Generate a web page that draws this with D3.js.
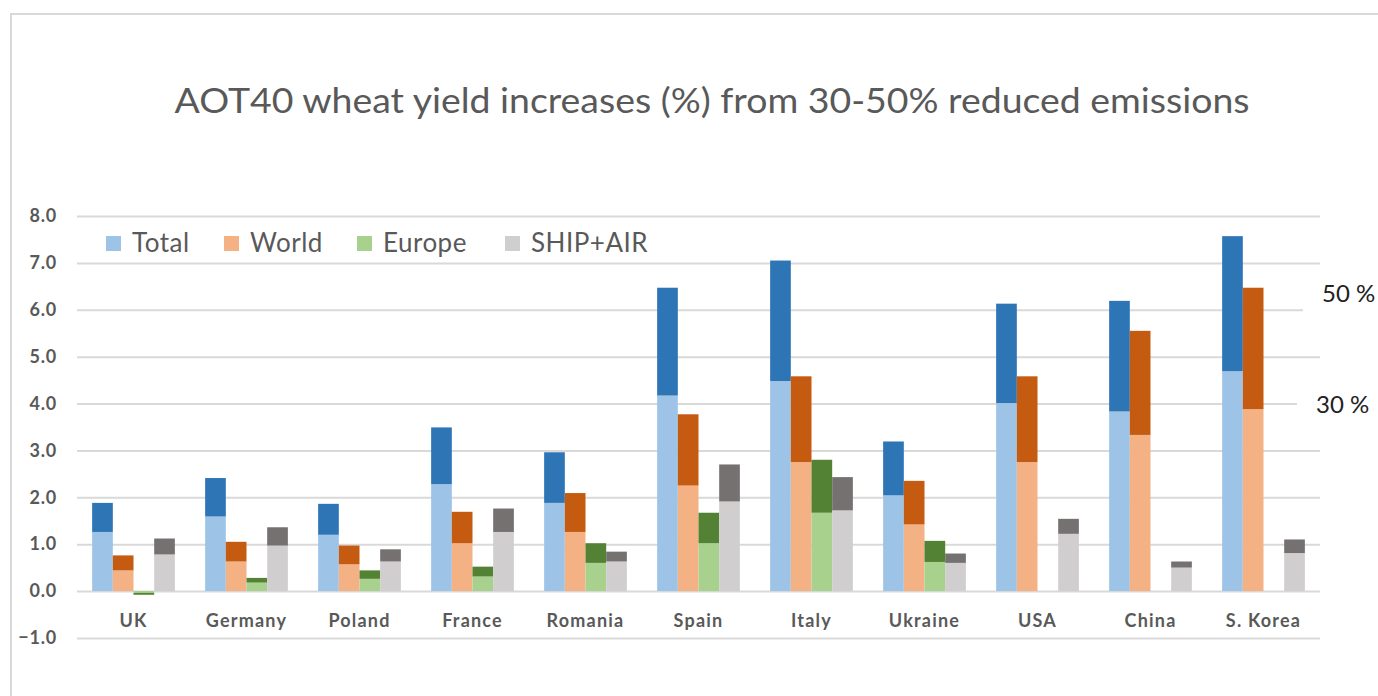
<!DOCTYPE html>
<html>
<head>
<meta charset="utf-8">
<script src="https://cdn.jsdelivr.net/npm/d3@7"></script>
<style>
  body { margin: 0; background: #fff; }
  text { font-family: Lato, "Open Sans", sans-serif; }
</style>
</head>
<body>
<script>
const width = 1378;
const height = 696;

// data: 30% reduction (light) and 50% reduction (full bar)
const categories = ["UK", "Germany", "Poland", "France", "Romania", "Spain", "Italy", "Ukraine", "USA", "China", "S. Korea"];
const seriesNames = ["Total", "World", "Europe", "SHIP+AIR"];

const total30 = [1.26, 1.59, 1.20, 2.28, 1.88, 4.17, 4.48, 2.04, 4.01, 3.83, 4.69];
const total50 = [1.88, 2.41, 1.86, 3.49, 2.96, 6.47, 7.05, 3.19, 6.13, 6.19, 7.57];
const world30 = [0.44, 0.63, 0.57, 1.02, 1.26, 2.25, 2.75, 1.42, 2.75, 3.33, 3.88];
const world50 = [0.76, 1.05, 0.97, 1.69, 2.09, 3.77, 4.58, 2.35, 4.58, 5.55, 6.47];
const europe30 = [-0.04, 0.18, 0.26, 0.31, 0.60, 1.02, 1.67, 0.62, 0, 0, 0];
const europe50 = [-0.08, 0.28, 0.44, 0.52, 1.02, 1.67, 2.80, 1.07, 0, 0, 0];
const ship30 = [0.78, 0.97, 0.63, 1.26, 0.63, 1.91, 1.72, 0.60, 1.22, 0.50, 0.81];
const ship50 = [1.12, 1.36, 0.89, 1.76, 0.84, 2.70, 2.43, 0.80, 1.54, 0.63, 1.10];

const yTickValues = [-1, 0, 1, 2, 3, 4, 5, 6, 7, 8];
const reductionLabels = ["50 %", "30 %"];

const lightColors = ["#9dc3e6", "#f4b183", "#a9d18e", "#d0cece"];
const darkColors = ["#2e75b6", "#c55a11", "#548235", "#767171"];

const values30 = [total30, world30, europe30, ship30];
const values50 = [total50, world50, europe50, ship50];

// one row per bar segment
const segments = [];
categories.forEach((c, i) => {
  seriesNames.forEach((s, j) => {
    segments.push({ cat: c, series: s, from: 0, to: values30[j][i], color: lightColors[j] });
    segments.push({ cat: c, series: s, from: values30[j][i], to: values50[j][i], color: darkColors[j] });
  });
});

const plotLeft = 77;
const plotRight = 1320;

const svg = d3.select("body")
  .append("svg")
  .attr("width", width)
  .attr("height", height);

svg.append("rect")
  .attr("width", width)
  .attr("height", height)
  .attr("fill", "#fff");

// chart frame (only top and left edges are visible)
svg.append("path")
  .attr("d", `M11,${height} L11,14 L${width},14`)
  .attr("fill", "none")
  .attr("stroke", "#d9d9d9")
  .attr("stroke-width", 2);

const x0 = d3.scaleBand()
  .domain(categories)
  .range([plotLeft, plotRight])
  .paddingInner(0.268)
  .paddingOuter(0.134);

const x1 = d3.scaleBand()
  .domain(seriesNames)
  .range([0, x0.bandwidth()]);

const y = d3.scaleLinear()
  .domain([-1, 8])
  .range([637.9, 216]);

// y axis with gridlines
const yAxisGroup = svg.append("g")
  .attr("transform", `translate(${plotLeft}, 0)`)
  .call(d3.axisLeft(y)
    .tickValues(yTickValues)
    .tickSize(-(plotRight - plotLeft))
    .tickPadding(20)
    .tickFormat(d3.format(".1f")));

yAxisGroup.select(".domain").remove();
yAxisGroup.selectAll("line")
  .attr("stroke", "#d9d9d9")
  .attr("stroke-width", 2);
yAxisGroup.selectAll("text")
  .attr("fill", "#595959")
  .attr("font-size", 18)
  .attr("font-weight", "bold")
  .attr("letter-spacing", 0.8)
  .attr("font-family", "Lato, sans-serif");

// bars
svg.append("g")
  .selectAll("rect")
  .data(segments.filter(d => d.to !== d.from))
  .enter()
  .append("rect")
  .attr("x", d => x0(d.cat) + x1(d.series))
  .attr("y", d => y(Math.max(d.from, d.to)))
  .attr("width", x1.bandwidth())
  .attr("height", d => Math.abs(y(d.from) - y(d.to)))
  .attr("fill", d => d.color);

// category axis
const xAxisGroup = svg.append("g")
  .attr("transform", `translate(0, ${y(0)})`)
  .call(d3.axisBottom(x0).tickSize(0).tickPadding(0));

xAxisGroup.select(".domain").remove();
xAxisGroup.selectAll("text")
  .attr("y", 36)
  .attr("dy", null)
  .attr("fill", "#595959")
  .attr("font-size", 18)
  .attr("font-weight", "bold")
  .attr("letter-spacing", 1.2)
  .attr("font-family", "Lato, sans-serif");

// title
svg.append("text")
  .attr("x", 712)
  .attr("y", 113)
  .attr("text-anchor", "middle")
  .attr("fill", "#595959")
  .attr("font-size", 35)
  .attr("textLength", 1075)
  .attr("lengthAdjust", "spacingAndGlyphs")
  .text("AOT40 wheat yield increases (%) from 30-50% reduced emissions");

// legend
const legendX = [106, 224, 357, 505];
const legend = svg.append("g")
  .selectAll("g")
  .data(seriesNames)
  .enter()
  .append("g")
  .attr("transform", (d, i) => `translate(${legendX[i]}, 236)`);

legend.append("rect")
  .attr("width", 15)
  .attr("height", 15)
  .attr("fill", (d, i) => lightColors[i]);

legend.append("text")
  .attr("x", 26)
  .attr("y", 16)
  .attr("fill", "#595959")
  .attr("font-size", 26)
  .attr("letter-spacing", 0.5)
  .text(d => d);

// reduction level labels on the right, boxes hide the gridlines behind
const labelBoxes = [
  { text: reductionLabels[0], boxX: 1303, textX: 1322, baseline: 302 },
  { text: reductionLabels[1], boxX: 1297, textX: 1316, baseline: 413 }
];

labelBoxes.forEach(b => {
  svg.append("rect")
    .attr("x", b.boxX)
    .attr("y", b.baseline - 30)
    .attr("width", width - b.boxX)
    .attr("height", 40)
    .attr("fill", "#fff");
  svg.append("text")
    .attr("x", b.textX)
    .attr("y", b.baseline)
    .attr("fill", "#222")
    .attr("font-size", 24)
    .text(b.text);
});
</script>
</body>
</html>
